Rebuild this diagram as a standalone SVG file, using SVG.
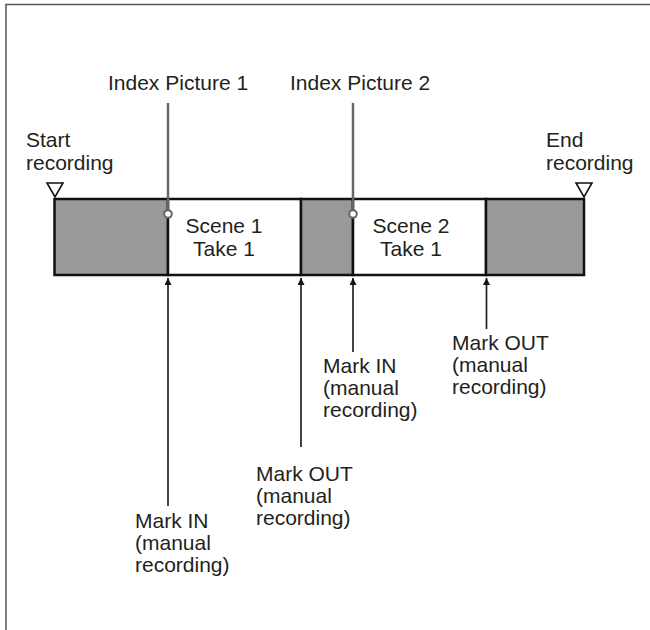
<svg xmlns="http://www.w3.org/2000/svg" width="650" height="630" viewBox="0 0 650 630">
<defs>
<style>
text{font-family:"Liberation Sans",Arial,Helvetica,sans-serif;font-size:21px;fill:#231f20}
.frame{fill:none;stroke:#555;stroke-width:1.5}
.seg-g{fill:#999;stroke:#111;stroke-width:2.5}
.seg-w{fill:#fff;stroke:#111;stroke-width:2.5}
.tri{fill:#fff;stroke:#111;stroke-width:1.6;stroke-linejoin:miter}
.idx{stroke:#666;stroke-width:2.5;fill:none}
.dot{fill:#fff;stroke:#666;stroke-width:2}
.arr{stroke:#222;stroke-width:1.7;fill:none;marker-start:url(#ah)}
</style>
<marker id="ah" viewBox="0 0 10 10" refX="0" refY="5" markerWidth="10" markerHeight="7" markerUnits="userSpaceOnUse" orient="auto">
<path d="M10,0 L0,5 L10,10 z" fill="#111"/>
</marker>
</defs>
<path class="frame" d="M6,630 V4.5 H650"/>
<g id="bar">
<rect class="seg-g" x="54.5" y="199" width="113.5" height="76"/>
<rect class="seg-w" x="168" y="199" width="133" height="76"/>
<rect class="seg-g" x="301" y="199" width="52" height="76"/>
<rect class="seg-w" x="353" y="199" width="133" height="76"/>
<rect class="seg-g" x="486" y="199" width="98" height="76"/>
</g>
<g id="scene1"><text x="224" y="233" text-anchor="middle">Scene 1</text><text x="224" y="256" text-anchor="middle">Take 1</text></g>
<g id="scene2"><text x="411" y="233" text-anchor="middle">Scene 2</text><text x="411" y="256" text-anchor="middle">Take 1</text></g>
<g id="start"><text x="26" y="147">Start</text><text x="26" y="170">recording</text><path class="tri" d="M47,183 H63 L55,197 z"/></g>
<g id="end"><text x="546" y="147">End</text><text x="546" y="170">recording</text><path class="tri" d="M576,183 H592 L584,197 z"/></g>
<g id="index1"><text x="108" y="90">Index Picture 1</text></g>
<g id="index2"><text x="290" y="90">Index Picture 2</text></g>
<g id="markin1"><text x="135" y="528">Mark IN</text><text x="135" y="550">(manual</text><text x="135" y="572">recording)</text></g>
<g id="markout1"><text x="256" y="481">Mark OUT</text><text x="256" y="503">(manual</text><text x="256" y="525">recording)</text></g>
<g id="markin2"><text x="323" y="373">Mark IN</text><text x="323" y="395">(manual</text><text x="323" y="417">recording)</text></g>
<g id="markout2"><text x="452" y="350">Mark OUT</text><text x="452" y="372">(manual</text><text x="452" y="394">recording)</text></g>
<g id="connectors">
<line class="idx" x1="168" y1="103" x2="168" y2="210"/>
<circle class="dot" cx="168" cy="214" r="3.8"/>
<line class="idx" x1="353" y1="103" x2="353" y2="210"/>
<circle class="dot" cx="353" cy="214" r="3.8"/>
<line class="arr" x1="168" y1="278" x2="168" y2="506"/>
<line class="arr" x1="301" y1="278" x2="301" y2="447"/>
<line class="arr" x1="353" y1="278" x2="353" y2="352"/>
<line class="arr" x1="486.5" y1="278" x2="486.5" y2="329"/>
</g>
</svg>
